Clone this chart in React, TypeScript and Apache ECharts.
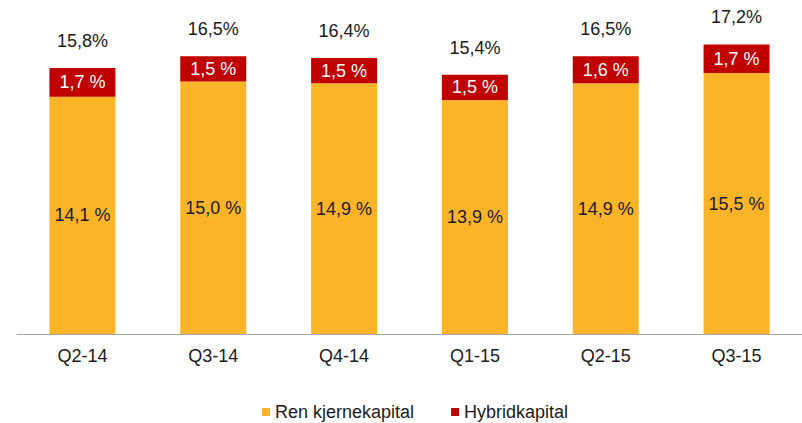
import React, { useEffect, useRef } from "react";
import * as echarts from "echarts";

const categories = ["Q2-14", "Q3-14", "Q4-14", "Q1-15", "Q2-15", "Q3-15"];
const renKjernekapital = [14.1, 15.0, 14.9, 13.9, 14.9, 15.5];
const hybridkapital = [1.7, 1.5, 1.5, 1.5, 1.6, 1.7];
const totals = [15.8, 16.5, 16.4, 15.4, 16.5, 17.2];

const FONT = "'Liberation Sans', Arial, sans-serif";
const FS = 18;
const fmt = (v: number) => v.toFixed(1).replace(".", ",");

export default function App() {
  const ref = useRef<HTMLDivElement>(null);
  useEffect(() => {
    if (!ref.current) return;
    const chart = echarts.init(ref.current, undefined, { renderer: "svg" });
    chart.setOption({
      animation: false,
      textStyle: { fontFamily: FONT },
      grid: { left: 17, right: -11, top: 31, bottom: 89 },
      legend: {
        left: 257,
        top: 398,
        itemWidth: 8,
        itemHeight: 8,
        itemGap: 37,
        icon: "rect",
        textStyle: { fontFamily: FONT, fontSize: FS, color: "#1a1a1a" },
        data: ["Ren kjernekapital", "Hybridkapital"],
      },
      xAxis: {
        type: "category",
        data: categories,
        axisLine: { lineStyle: { color: "#A6A6A6", width: 1 } },
        axisTick: { length: 6, lineStyle: { color: "#A6A6A6" } },
        axisLabel: { fontFamily: FONT, fontSize: FS, color: "#1a1a1a", margin: 13 },
      },
      yAxis: {
        type: "value",
        min: 0,
        max: 18,
        show: false,
        splitLine: { show: false },
      },
      series: [
        {
          name: "Ren kjernekapital",
          type: "bar",
          stack: "a",
          barWidth: 66,
          data: renKjernekapital,
          itemStyle: { color: "#FBB427" },
          label: {
            show: true,
            position: "inside",
            fontFamily: FONT,
            fontSize: FS,
            color: "#1a1a1a",
            formatter: (p: any) => fmt(p.value) + " %",
          },
        },
        {
          name: "Hybridkapital",
          type: "bar",
          stack: "a",
          barWidth: 66,
          data: hybridkapital,
          itemStyle: { color: "#C00000" },
          label: {
            show: true,
            position: "inside",
            fontFamily: FONT,
            fontSize: FS,
            color: "#ffffff",
            formatter: (p: any) => fmt(p.value) + " %",
          },
        },
        {
          name: "Total",
          type: "line",
          data: totals,
          symbol: "circle",
          symbolSize: 2,
          showSymbol: true,
          itemStyle: { color: "rgba(255,255,255,0)", borderWidth: 0 },
          lineStyle: { width: 0, color: "rgba(255,255,255,0)" },
          silent: true,
          z: 10,
          label: {
            show: true,
            position: "top",
            distance: 17,
            fontFamily: FONT,
            fontSize: FS,
            color: "#1a1a1a",
            formatter: (p: any) => fmt(p.value) + "%",
          },
        },
      ],
    });
    return () => chart.dispose();
  }, []);
  return (
    <div
      ref={ref}
      style={{ position: "absolute", left: 0, top: 0, width: 802, height: 423, background: "#fff" }}
    />
  );
}
